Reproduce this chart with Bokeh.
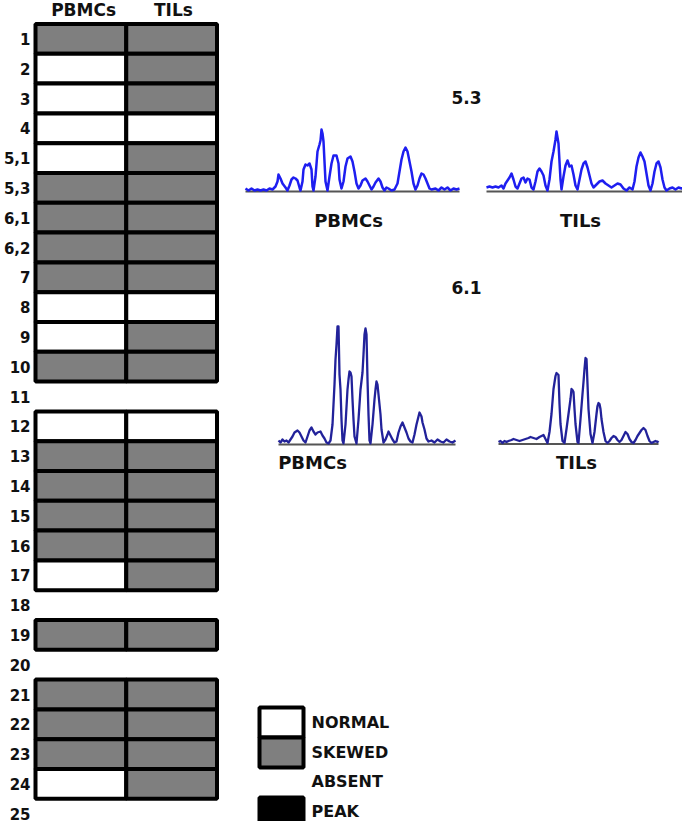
from bokeh.plotting import figure
from bokeh.models import Range1d
from bokeh.core.properties import value
from bokeh.embed import file_html
from bokeh.resources import INLINE

# ---------------- data ----------------
row_labels = ["1", "2", "3", "4", "5,1", "5,3", "6,1", "6,2", "7", "8", "9", "10",
              "11", "12", "13", "14", "15", "16", "17", "18", "19", "20", "21",
              "22", "23", "24", "25"]
columns = ["PBMCs", "TILs"]
# N = normal, S = skewed, A = absent
pbmc_status = ["S", "N", "N", "N", "N", "S", "S", "S", "S", "N", "N", "S", "A",
               "N", "S", "S", "S", "S", "N", "A", "S", "A", "S", "S", "S", "N", "A"]
til_status = ["S", "S", "S", "N", "S", "S", "S", "S", "S", "N", "S", "S", "A",
              "N", "S", "S", "S", "S", "S", "A", "S", "A", "S", "S", "S", "S", "A"]

legend_labels = ["NORMAL", "SKEWED", "ABSENT", "PEAK"]
legend_status = ["N", "S", "A", "P"]

# spectratype traces (position along the trace, intensity)
v53_pbmc_x = [0, 3, 6, 9, 12, 15, 18, 21, 24, 27, 30, 32, 33, 35, 37, 40, 42, 44, 46, 48, 50, 52, 54, 55,
              57, 58, 60, 62, 64, 66, 67, 68, 70, 72, 74, 75, 76, 77, 78, 79, 80, 82, 84, 86, 88, 91, 93,
              94, 96, 98, 100, 102, 105, 107, 109, 111, 113, 115, 117, 120, 122, 124, 126, 128, 130, 133,
              135, 137, 139, 141, 143, 146, 149, 152, 154, 156, 158, 160, 162, 164, 166, 168, 170, 172,
              174, 176, 178, 180, 182, 184, 186, 190, 193, 196, 199, 202, 205, 208, 211, 214]
v53_pbmc_y = [3, 1, 3, 1, 2, 1, 2, 1, 3, 2, 5, 10, 17, 13, 8, 4, 1, 6, 12, 14, 13, 11, 4, 1,
              10, 22, 27, 26, 28, 22, 5, 1, 15, 40, 47, 51, 62, 58, 50, 30, 10, 1, 15, 28, 36, 36, 28,
              12, 3, 10, 25, 33, 35, 30, 20, 8, 3, 6, 11, 13, 10, 6, 2, 5, 9, 13,
              10, 4, 1, 4, 3, 1, 2, 8, 20, 32, 40, 44, 40, 30, 20, 8, 2, 6,
              13, 18, 17, 13, 8, 3, 2, 3, 1, 4, 2, 4, 1, 3, 2, 3]

v53_til_x = [0, 3, 6, 9, 12, 15, 17, 19, 21, 23, 25, 27, 29, 31, 33, 35, 37, 39, 41, 43, 45, 47,
             49, 51, 53, 55, 57, 59, 61, 63, 65, 67, 69, 70, 72, 73, 74, 75, 77, 79, 81, 83, 85, 87,
             89, 91, 93, 95, 97, 99, 101, 103, 105, 107, 110, 113, 116, 119, 122, 125, 128, 131, 134,
             137, 140, 143, 146, 148, 150, 152, 154, 156, 158, 160, 162, 164, 166, 168, 170, 172, 174,
             176, 178, 180, 183, 186, 189, 192, 195, 198, 201, 204]
v53_til_y = [4, 5, 4, 5, 4, 6, 3, 8, 11, 14, 18, 12, 5, 3, 8, 13, 14, 9, 13, 12, 4, 2,
             10, 20, 23, 20, 16, 6, 1, 12, 30, 40, 52, 60, 48, 30, 12, 2, 15, 26, 31, 25, 26, 17,
             6, 2, 12, 22, 28, 30, 24, 16, 8, 4, 7, 10, 11, 8, 6, 4, 6, 8, 7,
             3, 1, 4, 2, 10, 25, 34, 39, 35, 30, 18, 6, 1, 8, 20, 28, 30, 24,
             12, 4, 1, 3, 4, 2, 4, 3, 4, 2, 4]

v61_pbmc_x = [0, 2, 4, 6, 8, 10, 12, 14, 16, 19, 21, 23, 25, 27, 29, 31, 33, 35, 37, 39, 42, 44, 46,
              48, 50, 52, 54, 56, 57, 58, 59, 60, 61, 62, 63, 64, 65, 67, 69, 70, 71, 72, 73, 74, 75,
              76, 78, 80, 82, 84, 85, 86, 87, 88, 89, 90, 91, 92, 94, 96, 97, 98, 99, 100, 101, 102,
              103, 105, 107, 109, 110, 112, 114, 116, 118, 120, 122, 124, 126, 128, 130, 132, 134, 136,
              138, 140, 141, 143, 144, 146, 148, 150, 153, 156, 159, 162, 165, 168, 171, 174, 177]
v61_pbmc_y = [4, 2, 5, 3, 4, 2, 5, 8, 12, 14, 12, 8, 4, 2, 8, 14, 17, 13, 10, 12, 13, 9, 6,
              2, 1, 4, 20, 60, 85, 100, 118, 118, 70, 55, 25, 4, 1, 20, 55, 65, 73, 72, 68, 45, 25,
              8, 1, 25, 55, 72, 90, 110, 116, 110, 65, 30, 4, 1, 20, 45, 55, 63, 60, 50, 40, 30,
              15, 2, 5, 10, 13, 9, 5, 2, 3, 12, 18, 22, 17, 12, 6, 3, 2, 10,
              20, 28, 32, 28, 22, 15, 6, 3, 4, 2, 5, 3, 2, 5, 3, 2, 4]

v61_til_x = [0, 2, 4, 6, 8, 10, 13, 15, 18, 21, 24, 27, 30, 32, 35, 38, 41, 43, 45, 47, 49,
             51, 53, 55, 57, 58, 59, 60, 61, 62, 64, 66, 68, 70, 72, 73, 74, 75, 76, 77, 79, 80,
             82, 84, 85, 86, 87, 88, 89, 90, 92, 94, 96, 98, 99, 100, 101, 102, 103, 105, 107, 109,
             111, 113, 115, 117, 119, 121, 123, 125, 127, 129, 131, 133, 135, 137, 139, 141, 143,
             145, 147, 149, 151, 153, 155, 157, 159, 160]
v61_til_y = [2, 3, 1, 3, 2, 3, 4, 5, 4, 3, 4, 5, 6, 7, 6, 5, 7, 8, 9, 5, 1,
             12, 30, 55, 68, 71, 70, 69, 40, 20, 3, 1, 15, 30, 45, 55, 54, 52, 35, 20, 2, 1,
             25, 50, 62, 75, 86, 85, 60, 35, 10, 1, 12, 30, 38, 41, 40, 35, 25, 12, 3, 1,
             3, 6, 8, 7, 4, 2, 4, 8, 12, 10, 5, 2, 1, 4, 8, 11, 14,
             16, 14, 8, 3, 1, 2, 3, 2, 3]

# ---------------- layout constants (pixels inside the figure) ----------------
W, H = 682, 821
GRID_LEFT = 35.0      # left edge of PBMCs column
COL_W = 90.75         # px per column
ROW0 = 38.4           # centre of first row
ROW_H = 29.8          # px per row

FONT = value("DejaVu Sans")
GRAY = "#7f7f7f"
fill_of = {"N": "white", "S": GRAY, "P": "black"}

x_lo = -GRID_LEFT / COL_W
x_hi = (W - GRID_LEFT) / COL_W
y_top = -ROW0 / ROW_H
y_bot = (H - ROW0) / ROW_H

p = figure(width=W, height=H, x_range=Range1d(x_lo, x_hi), y_range=Range1d(y_bot, y_top),
           output_backend="svg", toolbar_location=None, min_border=0,
           x_axis_location=None, y_axis_location=None)
p.grid.visible = False
p.outline_line_color = None
p.background_fill_color = "white"
p.border_fill_color = "white"

# pixel-space ranges for free placed items
p.extra_x_ranges["px"] = Range1d(0, W)
p.extra_y_ranges["px"] = Range1d(H, 0)

# ---------------- grid ----------------
cx, cy, cc = [], [], []
for ci, statuses in enumerate([pbmc_status, til_status]):
    for ri, s in enumerate(statuses):
        if s == "A":
            continue
        cx.append(ci + 0.5)
        cy.append(ri)
        cc.append(fill_of[s])
p.rect(x=cx, y=cy, width=1, height=1, fill_color=cc, line_color="black", line_width=4)

p.text(x=[-0.055] * len(row_labels), y=list(range(len(row_labels))), text=row_labels,
       text_align="right", text_baseline="middle", text_font=FONT,
       text_font_style="bold", text_font_size="15px", text_color="#111111")

p.text(x=[0.53, 1.52], y=[-0.96, -0.96], text=columns, text_align="center",
       text_baseline="middle", text_font=FONT, text_font_style="bold",
       text_font_size="17px", text_color="#111111")

# ---------------- spectratypes ----------------
traces = [
    ("a", v53_pbmc_x, v53_pbmc_y, 245, 191, "#1e1ef0", 2.5),
    ("b", v53_til_x, v53_til_y, 486, 191, "#1e1ef0", 2.5),
    ("c", v61_pbmc_x, v61_pbmc_y, 278, 444, "#22229a", 2.3),
    ("d", v61_til_x, v61_til_y, 498, 443.5, "#22229a", 2.3),
]
for name, xs, ys, ox, by, col, lw in traces:
    p.extra_x_ranges[name + "x"] = Range1d(-ox, W - ox)
    p.extra_y_ranges[name + "y"] = Range1d(-(H - by), by)
    p.line(x=[xs[0], xs[-1]], y=[0, 0], line_color="#555555", line_width=2.2,
           x_range_name=name + "x", y_range_name=name + "y")
    p.line(x=xs, y=ys, line_color=col, line_width=lw, line_join="round",
           x_range_name=name + "x", y_range_name=name + "y")

titles = ["5.3", "6.1"]
p.text(x=[466, 466], y=[97, 287], text=titles, text_align="center", text_baseline="middle",
       text_font=FONT, text_font_style="bold", text_font_size="17px", text_color="#111111",
       x_range_name="px", y_range_name="px")
p.text(x=[348, 580, 312, 576], y=[220, 220, 462, 462],
       text=[columns[0], columns[1], columns[0], columns[1]],
       text_align="center", text_baseline="middle", text_font=FONT, text_font_style="bold",
       text_font_size="18px", text_color="#111111", x_range_name="px", y_range_name="px")

# ---------------- legend ----------------
LEG_X, LEG_Y0, LEG_DY = 281, 722, 30
lx, ly, lc = [], [], []
for i, s in enumerate(legend_status):
    if s == "A":
        continue
    lx.append(LEG_X)
    ly.append(LEG_Y0 + i * LEG_DY)
    lc.append(fill_of[s])
p.rect(x=lx, y=ly, width=44, height=30, fill_color=lc, line_color="black", line_width=4,
       x_range_name="px", y_range_name="px")
p.text(x=[311] * len(legend_labels),
       y=[LEG_Y0 - 0.5 * i + i * LEG_DY for i in range(len(legend_labels))],
       text=legend_labels, text_align="left", text_baseline="middle", text_font=FONT,
       text_font_style="bold", text_font_size="16px", text_color="#111111",
       x_range_name="px", y_range_name="px")

open("out.html", "w").write(file_html(p, INLINE))
